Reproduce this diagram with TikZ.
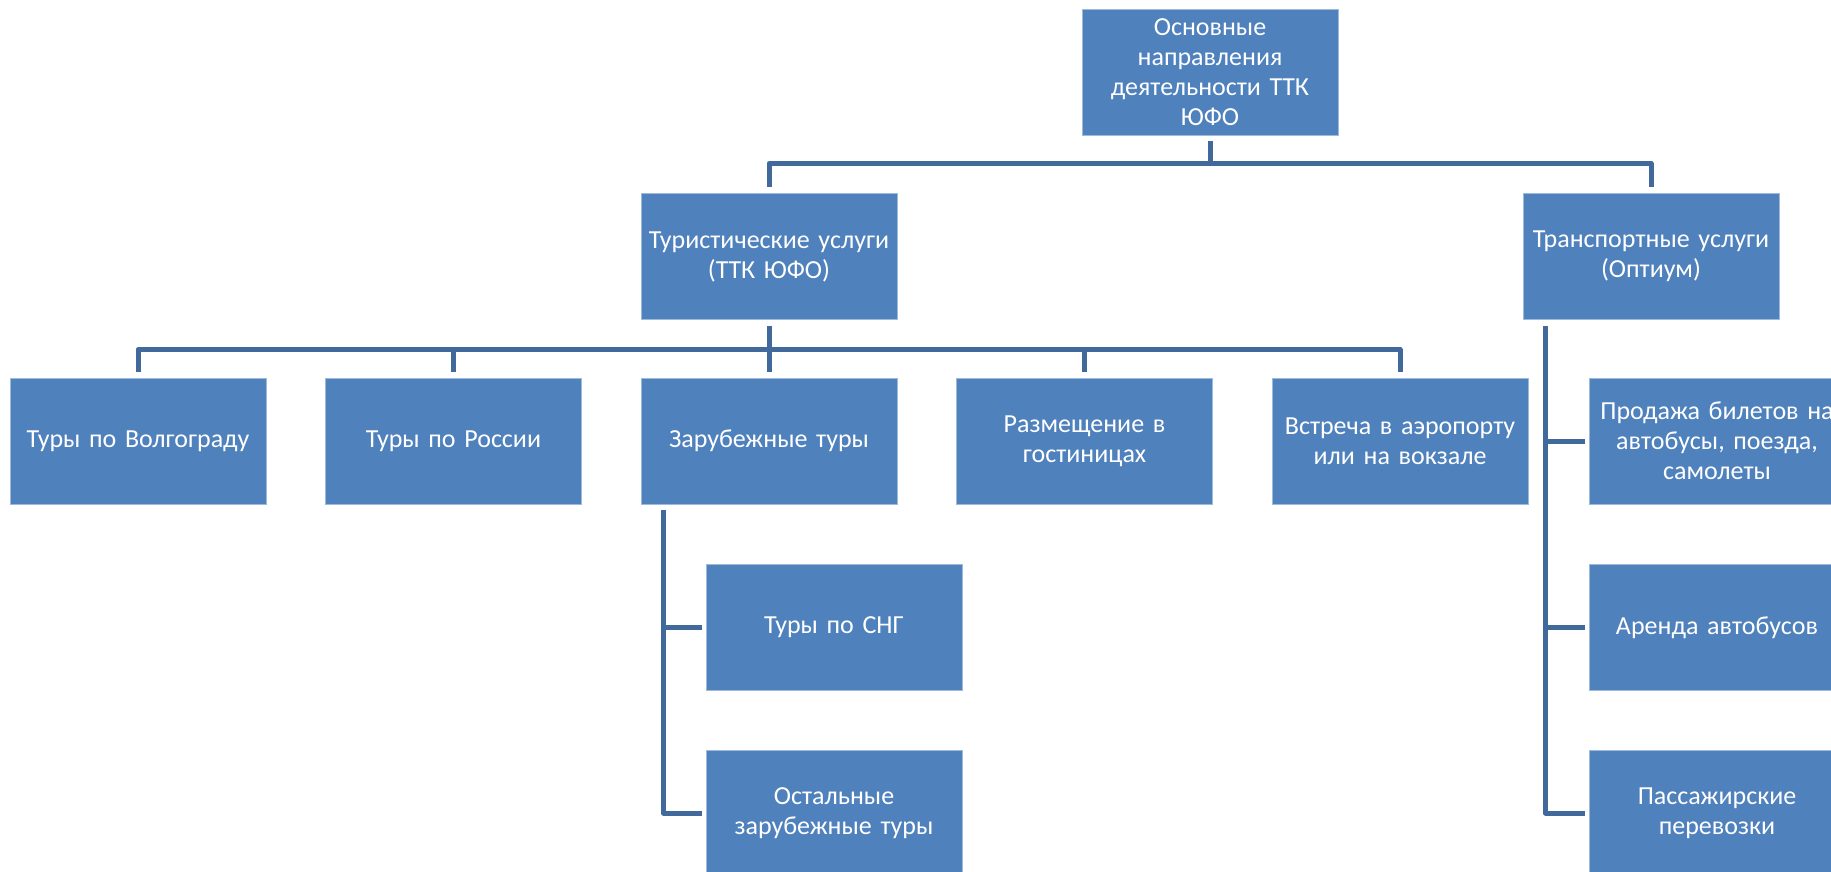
\documentclass[tikz,border=0pt]{standalone}
\usepackage{fontspec}
\setmainfont{Carlito}
\usetikzlibrary{positioning}
\definecolor{boxblue}{HTML}{4F81BD}
\definecolor{lineblue}{HTML}{41699C}

\begin{document}
\begin{tikzpicture}[x=1pt,y=-1pt]
\tikzset{box/.style={fill=boxblue,draw=boxblue!55!white,line width=0.8pt,text=white,minimum width=256pt,minimum height=126pt,inner sep=0pt,text width=246pt,align=center,font=\fontsize{26}{30}\selectfont},
  conn/.style={draw=lineblue,line width=5pt,line join=round,shorten <=6pt,shorten >=6pt}}
\useasboundingbox (0,0) rectangle (1831,872);
\clip (0,0) rectangle (1831,872);
% top levels
\node[box] (osn) at (1210,72) {Основные\\направления\\деятельности ТТК\\ЮФО};
\node[box] (tur) at (769,256.5) {Туристические услуги\\(ТТК ЮФО)};
\node[box] (trans) at (1651,256.5) {Транспортные услуги\\(Оптиум)};
% tourist services
\foreach \nm/\x/\txt in {volg/138/Туры по Волгограду, ros/453.5/Туры по России, zar/769/Зарубежные туры, razm/1084.5/Размещение в\\гостиницах, vstr/1400/Встреча в аэропорту\\или на вокзале}
  \node[box] (\nm) at (\x,441) {\txt};
\node[box] (sng) at (834,627.5) {Туры по СНГ};
\node[box] (ost) at (834,813) {Остальные\\зарубежные туры};
% transport services
\node[box] (bil) at (1717,441) {Продажа билетов на\\автобусы, поезда,\\самолеты};
\node[box] (avt) at (1717,627.5) {Аренда автобусов};
\node[box] (pass) at (1717,813) {Пассажирские\\перевозки};
% connectors
\draw[conn] (osn.south) -- ++(0,28) -| (tur.north);
\draw[conn] (osn.south) -- ++(0,28) -| (trans.north);
\foreach \nm in {volg,ros,zar,razm,vstr}
  \draw[conn] (tur.south) -- ++(0,29.5) -| (\nm.north);
\foreach \nm in {sng,ost}
  \draw[conn,shorten >=4pt] ([xshift=23pt]zar.south west) |- (\nm.west);
\foreach \nm in {bil,avt,pass}
  \draw[conn,shorten >=4pt] ([xshift=23pt]trans.south west) |- (\nm.west);
\end{tikzpicture}
\end{document}
